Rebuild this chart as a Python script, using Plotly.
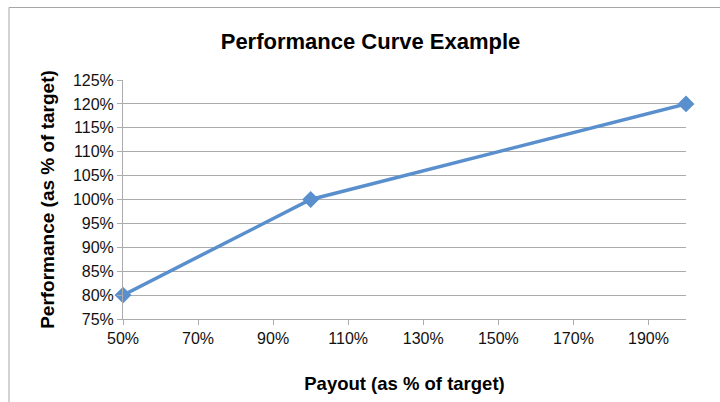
import plotly.graph_objects as go

# Payout vs. performance, both as % of target
payout = [50, 100, 200]
performance = [80, 100, 120]

x_ticks = [50, 70, 90, 110, 130, 150, 170, 190]
x_tick_labels = ["50%", "70%", "90%", "110%", "130%", "150%", "170%", "190%"]
y_ticks = [75, 80, 85, 90, 95, 100, 105, 110, 115, 120, 125]
y_tick_labels = [f"{v}%" for v in y_ticks]

line_color = "#5A8FCD"
grid_color = "#ABABAB"
font_family = "Liberation Sans, Arial, sans-serif"

fig = go.Figure()
fig.add_trace(go.Scatter(
    x=payout,
    y=performance,
    mode="lines+markers",
    line=dict(color=line_color, width=3.5),
    marker=dict(symbol="diamond", size=13, color=line_color),
    cliponaxis=False,
    showlegend=False,
    hoverinfo="x+y",
))

fig.update_layout(
    width=720,
    height=402,
    margin=dict(l=123, r=34, t=80, b=83),
    paper_bgcolor="white",
    plot_bgcolor="white",
    font=dict(family=font_family, color="#111111"),
    title=dict(
        text="<b>Performance Curve Example</b>",
        x=370.5 / 720,
        xanchor="center",
        xref="container",
        y=1 - 41 / 402,
        yanchor="middle",
        yref="container",
        font=dict(size=22, color="#000000", family=font_family),
    ),
    xaxis=dict(
        range=[50, 200],
        tickvals=x_ticks,
        ticktext=x_tick_labels,
        showgrid=False,
        zeroline=False,
        showline=True,
        linecolor=grid_color,
        linewidth=1,
        ticks="outside",
        ticklen=5,
        tickcolor=grid_color,
        tickfont=dict(size=16, color="#111111"),
        title=dict(
            text="<b>Payout (as % of target)</b>",
            font=dict(size=18.5, color="#000000"),
            standoff=30,
        ),
        fixedrange=True,
    ),
    yaxis=dict(
        range=[75, 125],
        tickvals=y_ticks,
        ticktext=y_tick_labels,
        showgrid=True,
        gridcolor=grid_color,
        gridwidth=1,
        zeroline=False,
        showline=True,
        linecolor=grid_color,
        linewidth=1,
        ticks="outside",
        ticklen=5,
        tickcolor=grid_color,
        tickfont=dict(size=16, color="#111111"),
        title=dict(
            text="<b>Performance (as % of target)</b>",
            font=dict(size=19, color="#000000"),
            standoff=13,
        ),
        fixedrange=True,
    ),
    shapes=[
        # chart frame
        dict(
            type="rect",
            xref="paper", yref="paper",
            x0=(9 - 123) / 563, x1=(730 - 123) / 563,
            y0=(319 - 420) / 239, y1=(319 - 7.5) / 239,
            line=dict(color="#A6A6A6", width=1),
            fillcolor="rgba(0,0,0,0)",
            layer="below",
        )
    ],
)

fig.write_html("out.html")
